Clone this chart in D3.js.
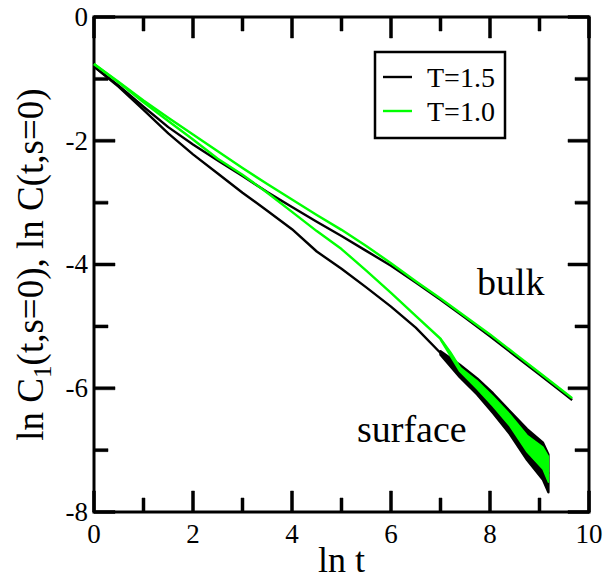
<!DOCTYPE html>
<html><head><meta charset="utf-8">
<script src="https://cdn.jsdelivr.net/npm/d3@7"></script>
<style>body{margin:0;background:#fff}svg{display:block}</style>
</head><body>
<svg id="c" width="603" height="579" font-family="Liberation Serif, Times New Roman, serif"></svg>
<script>
const xTicks = [0, 2, 4, 6, 8, 10];
const yTicks = [0, -2, -4, -6, -8];
const xMinor = [1, 3, 5, 7, 9];
const yMinor = [-1, -3, -5, -7];

const lnTBulk = [0,0.5,1,1.5,2,2.5,3,3.5,4,4.5,5,5.5,6,6.5,7,7.5,8,8.5,9,9.5,9.66];
const bulkT10 = [-0.76,-1.05,-1.35,-1.63,-1.90,-2.17,-2.44,-2.70,-2.95,-3.20,-3.44,-3.70,-3.98,-4.27,-4.55,-4.84,-5.13,-5.44,-5.75,-6.06,-6.16];
const bulkT15 = [-0.80,-1.11,-1.45,-1.78,-2.06,-2.32,-2.57,-2.83,-3.07,-3.31,-3.54,-3.78,-4.02,-4.29,-4.57,-4.86,-5.16,-5.47,-5.78,-6.09,-6.19];

const lnTSurf = [0,0.5,1,1.5,2,2.5,3,3.5,4,4.5,5,5.5,6,6.5,7,7.2,7.4,7.74,8.06,8.40,8.75,9.07,9.18];
const surfT15 = [-0.80,-1.13,-1.50,-1.88,-2.22,-2.53,-2.84,-3.13,-3.43,-3.79,-4.07,-4.37,-4.68,-5.02,-5.43,-5.57,-5.71,-5.96,-6.23,-6.54,-6.90,-7.18,-7.38];
const surfT10 = [-0.76,-1.06,-1.38,-1.68,-1.98,-2.29,-2.55,-2.84,-3.15,-3.46,-3.75,-4.10,-4.46,-4.83,-5.20,-5.42,-5.68,-5.95,-6.22,-6.52,-6.90,-7.14,-7.31];

const lnTBand = [7.0,7.39,7.74,8.06,8.40,8.75,9.07,9.18];
const bandT15Hi = [-5.40,-5.62,-5.84,-6.08,-6.37,-6.66,-6.88,-7.07];
const bandT15Lo = [-5.46,-5.82,-6.10,-6.40,-6.74,-7.16,-7.48,-7.68];
const bandT10Hi = [-5.20,-5.66,-5.88,-6.13,-6.42,-6.76,-6.95,-7.10];
const bandT10Lo = [-5.22,-5.73,-6.01,-6.29,-6.61,-7.03,-7.31,-7.52];

const legendLabels = ["T=1.5", "T=1.0"];
const colors = ["#000000", "#00ff00"];

const L = 94, R = 589, T = 17, B = 512;
const svg = d3.select("#c");
const xs = d3.scaleLinear().domain([0, 10]).range([L, R]);
const ys = d3.scaleLinear().domain([-8, 0]).range([B, T]);

const line = d3.line().x(d => xs(d[0])).y(d => ys(d[1]));
const zip = (a, b) => a.map((v, i) => [v, b[i]]);
function drawLine(a, b, c) {
  svg.append("path").attr("d", line(zip(a, b))).attr("fill", "none")
    .attr("stroke", c).attr("stroke-width", 2.4).attr("stroke-linejoin", "round");
}
function drawBand(a, hi, lo, c, w) {
  const area = d3.area().x((d, i) => xs(a[i])).y0((d, i) => ys(lo[i])).y1((d, i) => ys(hi[i]));
  svg.append("path").attr("d", area(a)).attr("fill", c).attr("stroke", c).attr("stroke-width", w)
    .attr("stroke-linejoin", "round");
}

// frame + inward ticks as one closed-outline path per tick (polygons)
const major = 21, minor = 14, hw = 1.5;
const tickPath = d3.path();
function rectP(x0, y0, w, h) { tickPath.rect(x0, y0, w, h); }
xTicks.concat(xMinor).forEach(v => {
  const len = xTicks.includes(v) ? major : minor;
  rectP(xs(v) - hw, B - len, 2 * hw, len);
  rectP(xs(v) - hw, T, 2 * hw, len);
});
yTicks.concat(yMinor).forEach(v => {
  const len = yTicks.includes(v) ? major : minor;
  rectP(L, ys(v) - hw, len, 2 * hw);
  rectP(R - len, ys(v) - hw, len, 2 * hw);
});
svg.append("path").attr("d", tickPath.toString()).attr("fill", "#000").attr("stroke", "#000").attr("stroke-width", 0.5);
svg.append("rect").attr("x", L).attr("y", T).attr("width", R - L).attr("height", B - T)
  .attr("fill", "none").attr("stroke", "#000").attr("stroke-width", 3);

// series
drawLine(lnTBulk, bulkT15, colors[0]);
drawLine(lnTSurf, surfT15, colors[0]);
drawBand(lnTBand, bandT15Hi, bandT15Lo, colors[0], 2.4);
drawLine(lnTBulk, bulkT10, colors[1]);
drawLine(lnTSurf.slice(0, 17), surfT10.slice(0, 17), colors[1]);
drawBand(lnTBand, bandT10Hi, bandT10Lo, colors[1], 1.5);

// tick labels
svg.selectAll(null).data(xTicks).enter().append("text")
  .attr("x", d => xs(d)).attr("y", B + 31).attr("text-anchor", "middle")
  .attr("font-size", 27).text(d => d);
svg.selectAll(null).data(yTicks).enter().append("text")
  .attr("x", L - 6).attr("y", d => ys(d)).attr("dy", "0.33em").attr("text-anchor", "end")
  .attr("font-size", 27).text(d => d);

// axis titles
svg.append("text").attr("x", (L + R) / 2).attr("y", 572).attr("text-anchor", "middle")
  .attr("font-size", 36).text("ln t");
const ytl = svg.append("text").attr("transform", `translate(43,${(T + B) / 2}) rotate(-90)`)
  .attr("text-anchor", "middle").attr("font-size", 37);
ytl.append("tspan").text("ln C");
ytl.append("tspan").attr("font-size", 25).attr("dy", 8).text("1");
ytl.append("tspan").attr("dy", -8).text("(t,s=0), ln C(t,s=0)");

// annotations
svg.append("text").attr("x", 477).attr("y", 295).attr("font-size", 38).text("bulk");
svg.append("text").attr("x", 357).attr("y", 442).attr("font-size", 38).text("surface");

// legend
svg.append("rect").attr("x", 375).attr("y", 52).attr("width", 130).attr("height", 86)
  .attr("fill", "#fff").attr("stroke", "#000").attr("stroke-width", 2.5);
const legY = [77, 111];
legendLabels.forEach((lab, i) => {
  svg.append("line").attr("x1", 383).attr("x2", 412).attr("y1", legY[i]).attr("y2", legY[i])
    .attr("stroke", colors[i]).attr("stroke-width", 2.4);
  svg.append("text").attr("x", 427).attr("y", legY[i] + 10).attr("font-size", 28).text(lab);
});
</script>
</body></html>
